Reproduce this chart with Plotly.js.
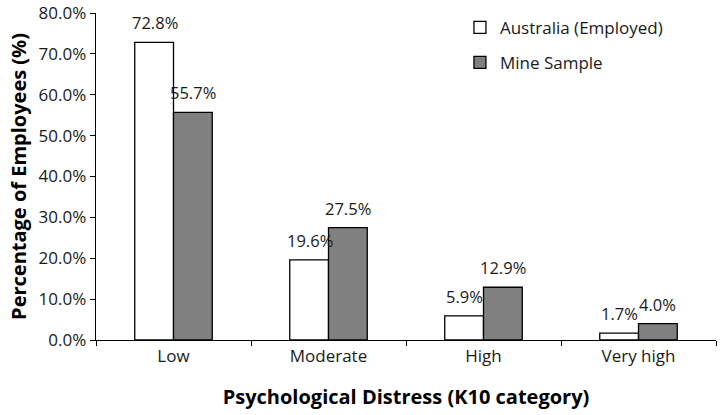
<!DOCTYPE html>
<html>
<head>
<meta charset="utf-8">
<script src="https://cdn.plot.ly/plotly-3.0.1.min.js"></script>
<style>
  html, body { margin: 0; padding: 0; background: #fff; }
  #chart { width: 720px; height: 415px; }
</style>
</head>
<body>
<div id="chart"></div>
<script>
"use strict";

var categories = ['Low', 'Moderate', 'High', 'Very high'];
var australiaEmployed = [72.8, 19.6, 5.9, 1.7];
var mineSample = [55.7, 27.5, 12.9, 4.0];
var yTickValues = [0, 10, 20, 30, 40, 50, 60, 70, 80];

var FONT = 'Open Sans, Noto Sans, sans-serif';
var TEXT = '#1a1a1a';

function barTrace(name, values, fill) {
  return {
    type: 'bar',
    name: name,
    legendgroup: name,
    x: categories,
    y: values,
    marker: {color: fill, line: {color: '#000', width: 1.3}},
    hoverinfo: 'skip'
  };
}

// Value labels sit a little above each bar, so use annotations
// (bar 'outside' text hugs the bar top). xshift moves to the bar in the group.
function valueLabels(values, xshift) {
  return values.map((v, i) => ({
    x: categories[i],
    y: v,
    text: v.toFixed(1) + '%',
    xref: 'x', yref: 'y',
    xanchor: 'center', yanchor: 'bottom',
    xshift: xshift, yshift: 6,
    showarrow: false,
    font: {family: FONT, size: 16.5, color: TEXT}
  }));
}

var data = [
  barTrace('Australia (Employed)', australiaEmployed, '#ffffff'),
  barTrace('Mine Sample', mineSample, '#808080')
];

var layout = {
  width: 720,
  height: 415,
  margin: {l: 96, r: 4, t: 13, b: 75},
  paper_bgcolor: '#fff',
  plot_bgcolor: '#fff',
  font: {family: FONT, size: 17, color: TEXT},
  barmode: 'group',
  bargap: 0.5,
  bargroupgap: 0,
  showlegend: true,
  legend: {
    x: 0.587, y: 1.01, xanchor: 'left', yanchor: 'top',
    font: {family: FONT, size: 17, color: TEXT},
    bgcolor: 'rgba(0,0,0,0)',
    traceorder: 'grouped',
    tracegroupgap: 10,
    itemwidth: 30
  },
  annotations: valueLabels(australiaEmployed, -19).concat(valueLabels(mineSample, 19)),
  xaxis: {
    type: 'category',
    showline: true, linecolor: '#000', linewidth: 1.3,
    ticks: 'outside', tickson: 'boundaries', ticklen: 5, tickcolor: '#000',
    showgrid: false, zeroline: false,
    tickfont: {family: FONT, size: 17, color: TEXT},
    title: {text: 'Psychological Distress (K10 category)', standoff: 24,
            font: {family: FONT, size: 20, color: '#000', weight: 'bold'}}
  },
  yaxis: {
    range: [0, 80],
    tickvals: yTickValues,
    ticktext: yTickValues.map(v => v.toFixed(1) + '%'),
    ticklabeloverflow: 'allow',
    showline: true, linecolor: '#000', linewidth: 1.3,
    ticks: 'outside', ticklen: 5, tickcolor: '#000',
    showgrid: false, zeroline: false,
    tickfont: {family: FONT, size: 17, color: TEXT},
    title: {text: 'Percentage of Employees (%)', standoff: 6,
            font: {family: FONT, size: 20, color: '#000', weight: 'bold'}}
  }
};

Plotly.newPlot('chart', data, layout, {displayModeBar: false, staticPlot: true});
</script>
</body>
</html>
